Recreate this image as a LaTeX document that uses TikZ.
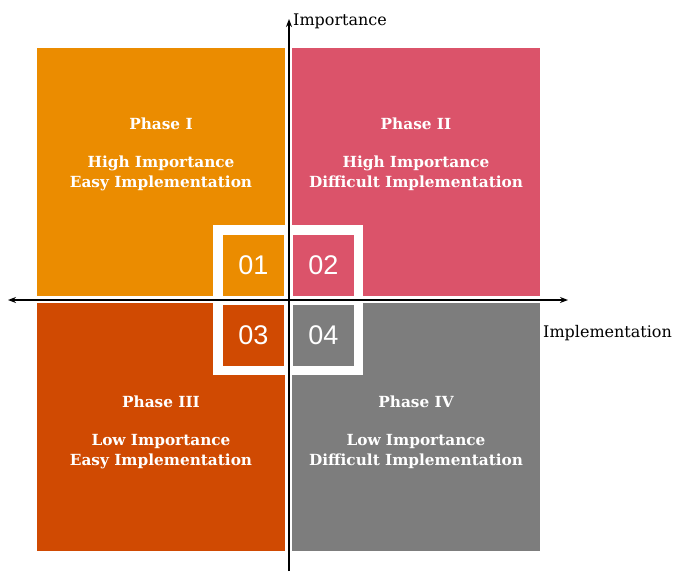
\documentclass[tikz,border=0pt]{standalone}
\usepackage{fontspec}
\setmainfont{DejaVu Serif}
\newfontfamily\numfont{Liberation Sans}
\usetikzlibrary{arrows.meta}
\definecolor{qone}{HTML}{EB8C00}
\definecolor{qtwo}{HTML}{DB536A}
\definecolor{qthree}{HTML}{D04A02}
\definecolor{qfour}{HTML}{7D7D7D}
\begin{document}
\begin{tikzpicture}[x=1pt,y=-1pt,
  quad/.style={rectangle,inner sep=0,outer sep=0,minimum width=248pt,minimum height=248pt},
  numbox/.style={rectangle,inner sep=0,outer sep=0,minimum width=61pt,minimum height=61pt,text=white,font=\numfont\fontsize{27}{30}\selectfont},
  qtext/.style={align=center,text=white,font=\bfseries\fontsize{15.3}{20}\selectfont},
  axislabel/.style={anchor=west,inner sep=0,font=\fontsize{16}{18}\selectfont},
  axis/.style={line width=1.3pt,black},
  tip/.style={-{Stealth[length=8pt,width=6pt]}}
]
\useasboundingbox (0,0) rectangle (675,571);
\node[quad,fill=qone] (q1) at (161,172) {};
\node[quad,fill=qtwo] (q2) at (416,172) {};
\node[quad,fill=qthree] (q3) at (161,427) {};
\node[quad,fill=qfour] (q4) at (416,427) {};

\node[qtext] (t1) at (161,154) {Phase I\\[18pt]High Importance\\Easy Implementation};
\node[qtext] (t2) at (416,154) {Phase II\\[18pt]High Importance\\Difficult Implementation};
\node[qtext] (t3) at (161,432) {Phase III\\[18pt]Low Importance\\Easy Implementation};
\node[qtext] (t4) at (416,432) {Phase IV\\[18pt]Low Importance\\Difficult Implementation};

\node[rectangle,fill=white,inner sep=0,minimum width=150pt,minimum height=150pt] (frame) at (288,300) {};
\node[numbox,fill=qone] (n1) at (253.5,265) {01};
\node[numbox,fill=qtwo] (n2) at (323.5,265) {02};
\node[numbox,fill=qthree] (n3) at (253.5,335) {03};
\node[numbox,fill=qfour] (n4) at (323.5,335) {04};

\coordinate (xl) at (8,300);
\coordinate (xr) at (568,300);
\coordinate (yb) at (289,571);
\coordinate (yt) at (289,19);
\draw[axis,{Stealth[length=8pt,width=6pt]}-{Stealth[length=8pt,width=6pt]}] (xl) -- (xr);
\draw[axis,tip] (yb) -- (yt);

\node[axislabel] (limp) at (293,21) {Importance};
\node[axislabel] (limpl) at (543,333) {Implementation};
\end{tikzpicture}
\end{document}
